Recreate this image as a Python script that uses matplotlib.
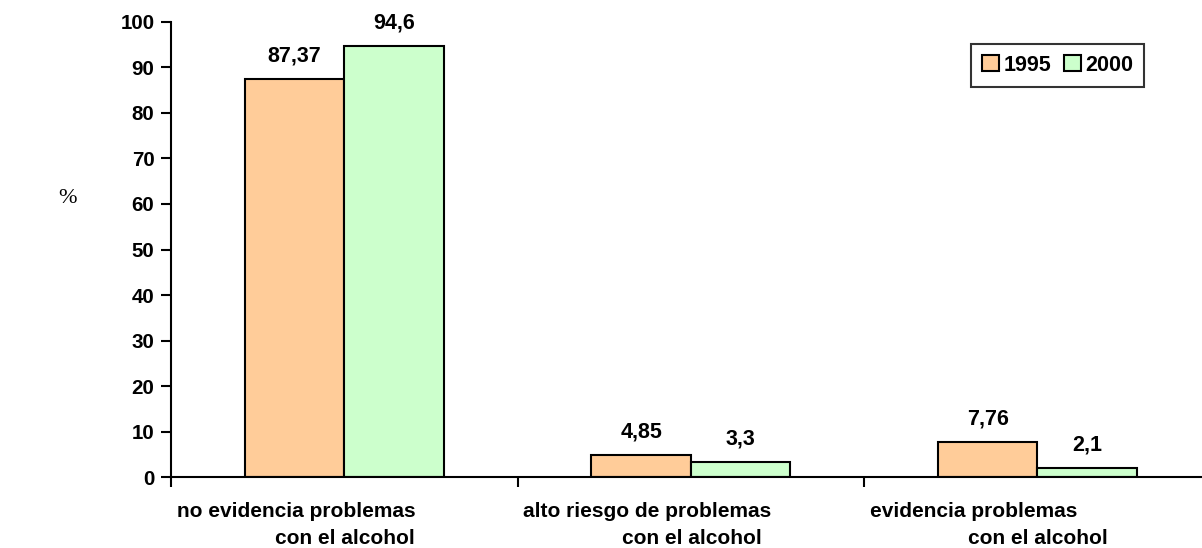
# grafico de barras: problemas con el alcohol 1995 vs 2000
import matplotlib.pyplot as plt
import numpy as np
# --------------------------------------------------------------

categorias_l1 = ["no evidencia problemas", "alto riesgo de problemas", "evidencia problemas"]
categorias_l2 = ["con el alcohol", "con el alcohol", "con el alcohol"]
valores_1995 = [87.37, 4.85, 7.76]
valores_2000 = [94.6, 3.3, 2.1]
etiquetas_1995 = ["87,37", "4,85", "7,76"]
etiquetas_2000 = ["94,6", "3,3", "2,1"]
anios = ["1995", "2000"]
yticks = list(range(0, 101, 10))
# --------------------------------------------------------------

plt.rcParams['font.family'] = ['Liberation Sans', 'DejaVu Sans']

fig = plt.figure(figsize=(12.02, 5.48), dpi=100)
ax = fig.add_axes([0.1423, 0.1287, 0.8648, 0.8318])

x = np.arange(len(valores_1995))
w = 0.287

# barras
b1 = ax.bar(x - w/2, valores_1995, w, color="#FFCC99", edgecolor="black", linewidth=1.5, label=anios[0])
b2 = ax.bar(x + w/2, valores_2000, w, color="#CCFFCC", edgecolor="black", linewidth=1.5, label=anios[1])

# valores encima de cada barra
for bars, textos in [(b1, etiquetas_1995), (b2, etiquetas_2000)]:
  for b, t in zip(bars, textos):
    ax.annotate(t, (b.get_x() + b.get_width()/2, b.get_height()),
                xytext=(0, 9), textcoords="offset points",
                ha="center", va="bottom", fontsize=15.5, fontweight="bold")

# ejes
ax.set_xlim(-0.5, len(x) - 0.5)
ax.set_ylim(0, 100)
ax.set_yticks(yticks)
ax.set_yticklabels([str(v) for v in yticks], fontsize=14.8, fontweight="bold")
ax.set_xticks(np.arange(len(x) + 1) - 0.5)
ax.set_xticklabels([])
ax.tick_params(axis="both", direction="out", length=7, width=1.5, color="black")
ax.tick_params(axis="y", pad=5)
for s in ["top", "right"]:
  ax.spines[s].set_visible(False)
for s in ["left", "bottom"]:
  ax.spines[s].set_linewidth(1.5)

# etiquetas de categoria en dos lineas
for i in x:
  ax.text(i - 0.483, -0.086, categorias_l1[i], transform=ax.get_xaxis_transform(),
          ha="left", va="baseline", fontsize=15, fontweight="bold")
  ax.text(i - 0.199, -0.1455, categorias_l2[i], transform=ax.get_xaxis_transform(),
          ha="left", va="baseline", fontsize=15, fontweight="bold")

# simbolo de porcentaje
fig.text(0.056, 0.638, "%", family=["Liberation Serif", "DejaVu Serif"], fontsize=16,
         ha="center", va="center")

# leyenda
leg = ax.legend(loc="upper left", bbox_to_anchor=(0.7696, 0.951), borderaxespad=0,
                ncol=2, frameon=True, fancybox=False, edgecolor="black",
                handlelength=0.8, handleheight=0.8, handletextpad=0.2,
                columnspacing=0.6, borderpad=0.5,
                prop={"weight": "bold", "size": 15.5})
leg.get_frame().set_linewidth(1.5)

fig.savefig("out.png", dpi=100)
